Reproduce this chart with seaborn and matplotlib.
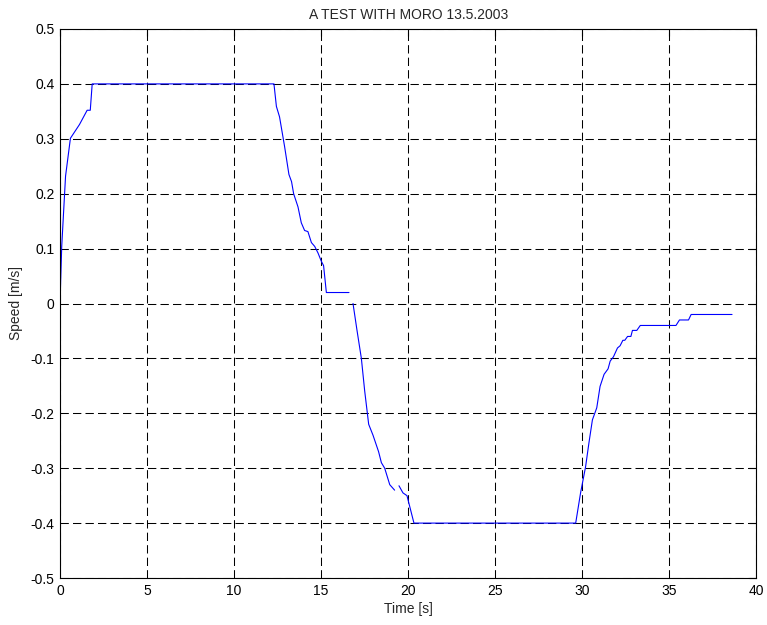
import numpy as np
import pandas as pd
import matplotlib
matplotlib.use("Agg")
import matplotlib.pyplot as plt
import seaborn as sns

# Logged speed of the MORO test run, split where the log has gaps
seg1_time = [0.0, 0.10, 0.32, 0.60, 1.12, 1.56, 1.74, 1.85, 12.29, 12.43, 12.61,
             12.90, 13.15, 13.30, 13.42, 13.67, 13.86, 14.05, 14.24, 14.44, 14.63,
             14.82, 15.01, 15.14, 15.30, 16.60]
seg1_speed = [0.0, 0.104, 0.232, 0.301, 0.326, 0.352, 0.352, 0.40, 0.40, 0.359, 0.340,
              0.286, 0.235, 0.222, 0.200, 0.176, 0.147, 0.133, 0.131, 0.111, 0.104,
              0.092, 0.077, 0.069, 0.02, 0.02]

seg2_time = [16.83, 17.06, 17.31, 17.50, 17.73, 17.98, 18.30, 18.46, 18.65, 18.94, 19.22]
seg2_speed = [0.0, -0.049, -0.10, -0.159, -0.22, -0.24, -0.27, -0.29, -0.30, -0.33, -0.34]

seg3_time = [19.47, 19.70, 19.93, 20.33, 29.62, 29.90, 30.19, 30.38, 30.58, 30.83,
             31.02, 31.25, 31.48, 31.60, 31.79, 32.02, 32.17, 32.33, 32.44, 32.60,
             32.79, 32.88, 33.13, 33.33, 35.38, 35.58, 36.10, 36.25, 38.60]
seg3_speed = [-0.332, -0.345, -0.35, -0.40, -0.40, -0.345, -0.297, -0.254, -0.212, -0.190,
              -0.151, -0.129, -0.119, -0.105, -0.097, -0.081, -0.077, -0.067, -0.067, -0.060,
              -0.060, -0.049, -0.049, -0.04, -0.04, -0.03, -0.03, -0.02, -0.02]

x_ticks = [0, 5, 10, 15, 20, 25, 30, 35, 40]
y_ticks = [-0.5, -0.4, -0.3, -0.2, -0.1, 0.0, 0.1, 0.2, 0.3, 0.4, 0.5]
y_tick_labels = ["-0.5", "-0.4", "-0.3", "-0.2", "-0.1", "0", "0.1", "0.2", "0.3", "0.4", "0.5"]

frames = []
for k, (t, v) in enumerate([(seg1_time, seg1_speed), (seg2_time, seg2_speed),
                            (seg3_time, seg3_speed)]):
    frames.append(pd.DataFrame({"time": t, "speed": v, "seg": k}))
df = pd.concat(frames, ignore_index=True)

sns.set_style("white")
plt.rcParams["font.family"] = ["Liberation Sans", "DejaVu Sans"]
plt.rcParams["axes.unicode_minus"] = False

fig = plt.figure(figsize=(7.67, 6.25), dpi=100)
ax = fig.add_axes([0.0782, 0.0752, 0.9080, 0.8784])

sns.lineplot(data=df, x="time", y="speed", units="seg", estimator=None,
             color="#0000ff", linewidth=0.8, ax=ax, legend=False)

ax.set_xlim(0, 40)
ax.set_ylim(-0.5, 0.5)
ax.set_xticks(x_ticks)
ax.set_xticklabels([str(x) for x in x_ticks])
ax.set_yticks(y_ticks)
ax.set_yticklabels(y_tick_labels)

ax.grid(True, color="black", linestyle=(0, (8, 4)), linewidth=0.75)
ax.set_axisbelow(True)
for s in ax.spines.values():
    s.set_visible(True)
    s.set_color("black")
    s.set_linewidth(0.8)

ax.tick_params(direction="in", length=5, width=0.8, top=True, right=True,
               labelsize=10, colors="black", pad=4)

ax.set_xlabel("Time [s]", fontsize=10, labelpad=3)
ax.set_ylabel("Speed [m/s]", fontsize=10, labelpad=5)
ax.set_title("A TEST WITH MORO 13.5.2003", fontsize=10, pad=7)

fig.savefig("out.png", dpi=100, facecolor="white")
